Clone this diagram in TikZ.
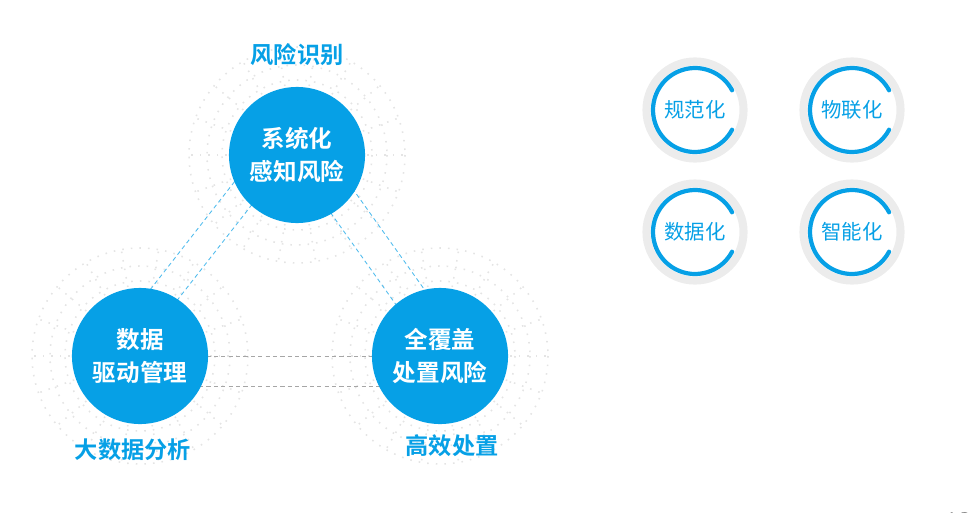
\documentclass[tikz,border=0pt]{standalone}
\usepackage{fontspec}
\usetikzlibrary{calc}
\newfontfamily\cjk{Noto Sans CJK SC}
\newfontfamily\cjkb{Noto Sans CJK SC Bold}
\definecolor{mainblue}{RGB}{6,160,230}
\definecolor{ringgray}{RGB}{236,236,236}
\definecolor{dotgray}{RGB}{228,228,228}
\begin{document}
\begin{tikzpicture}[x=0.01cm,y=-0.01cm,
  bigc/.style={circle,fill=mainblue,minimum size=1.36cm,inner sep=0pt,text=white,align=center,font=\cjkb\fontsize{6.7}{9.2}\selectfont},
  lbl/.style={text=mainblue,font=\cjkb\fontsize{6.6}{7}\selectfont},
  conn/.style={mainblue!70,dash pattern=on 1.2pt off 0.9pt,line width=0.25pt},
  connh/.style={gray!70,dash pattern=on 1.2pt off 0.9pt,line width=0.25pt},
  sphere/.style={dotgray,dotted,line width=0.45pt},
  ringbg/.style={circle,draw=ringgray,line width=2.3pt,minimum size=0.97cm,inner sep=0pt,text=mainblue,font=\cjk\fontsize{5.8}{7}\selectfont},
  arcst/.style={mainblue,line width=1.2pt,line cap=round}]
\useasboundingbox (0,0) rectangle (973,512);
\coordinate (t) at (297,155);
\coordinate (l) at (140,356);
\coordinate (r) at (440,356);
% dotted spheres
\foreach \c in {t,l,r}{
  \foreach \rr in {75,90,108}{\draw[sphere] (\c) circle (\rr);}
  \foreach \a in {0,20,...,340}{\draw[sphere] ($(\c)+(\a:70)$) -- ($(\c)+(\a:108)$);}
}
% connectors
\draw[conn] ([shift={(-26,-20)}]t) -- ([shift={(-26,-20)}]l);
\draw[conn] ([shift={(-4,-3)}]t) -- ([shift={(-4,-3)}]l);
\draw[conn] ([shift={(21,-15)}]t) -- ([shift={(21,-15)}]r);
\draw[conn] ([shift={(-5,3.5)}]t) -- ([shift={(-5,3.5)}]r);
\draw[connh] (l) -- (r);
\draw[connh] ([shift={(0,30)}]l) -- ([shift={(0,30)}]r);
% main circles
\node[bigc] (nt) at (t) {系统化\\感知风险};
\node[bigc] (nl) at (l) {数据\\驱动管理};
\node[bigc] (nr) at (r) {全覆盖\\处置风险};
\node[lbl] (lt) at (297,55) {风险识别};
\node[lbl] (ll) at (133,450) {大数据分析};
\node[lbl] (lr) at (452,446) {高效处置};
% right rings
\foreach \n/\x/\y/\t in {a/695/110/规范化,b/852/110/物联化,c/695/232/数据化,d/852/232/智能化}{
  \node[ringbg] (\n) at (\x,\y) {\t};
  \draw[arcst] ([shift={(28:42)}]\n.center) arc[start angle=28,end angle=332,radius=42];
}
\node[text=gray,font=\fontsize{6}{7}\selectfont,anchor=north] (pg) at (958,500) {12};
\end{tikzpicture}
\end{document}
